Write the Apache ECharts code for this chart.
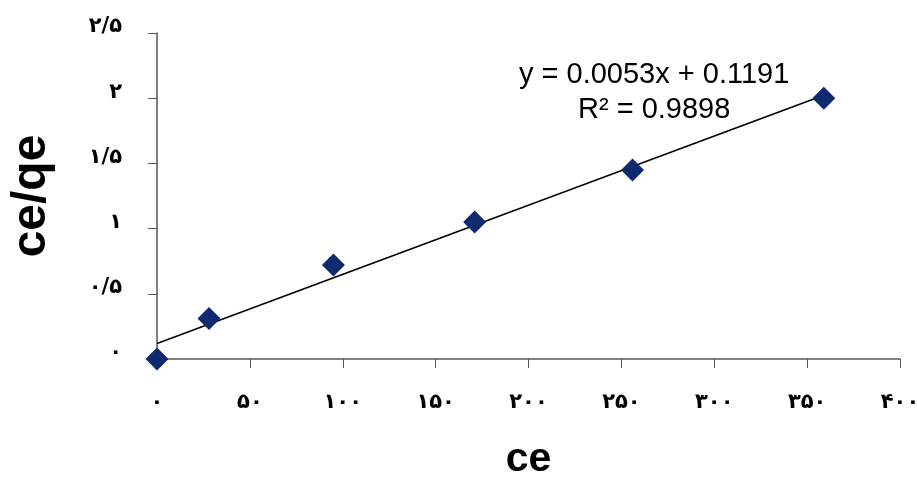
<!DOCTYPE html>
<html><head><meta charset="utf-8">
<script src="https://cdn.jsdelivr.net/npm/echarts@6/dist/echarts.min.js"></script>
<style>html,body{margin:0;padding:0;background:#fff}#c{width:917px;height:479px}</style>
</head><body><div id="c"></div>
<script>
var ceValues = [0, 28, 95, 171, 256, 359];
var ceqeValues = [0, 0.31, 0.72, 1.05, 1.45, 2.0];
var slope = 0.0053, intercept = 0.1191;
var trendX = [0, 359];
var equationText = 'y = 0.0053x + 0.1191';
var r2Text = 'R\u00B2 = 0.9898';
var xTitle = 'ce', yTitle = 'ce/qe';

function fa(v){
  var s = String(v).replace('.', '/');
  var d = '\u06F0\u06F1\u06F2\u06F3\u06F4\u06F5\u06F6\u06F7\u06F8\u06F9';
  return s.replace(/[0-9]/g, function(c){return d[+c];});
}
var pts = ceValues.map(function(x,i){return [x, ceqeValues[i]];});
var trend = trendX.map(function(x){return [x, slope*x + intercept];});

var chart = echarts.init(document.getElementById('c'));
chart.setOption({
  animation:false,
  grid:{left:157,right:17,top:33,bottom:120,containLabel:false,outerBoundsMode:'none'},
  xAxis:{type:'value',min:0,max:400,interval:50,
    axisLine:{show:true,lineStyle:{color:'#555',width:1.5}},
    axisTick:{show:true,length:9,lineStyle:{color:'#555'}},
    splitLine:{show:false},
    axisLabel:{formatter:fa,margin:33,color:'#000',fontWeight:'bold',fontSize:21,fontFamily:'DejaVu Sans'},
    name:xTitle,nameLocation:'middle',nameGap:80,
    nameTextStyle:{fontSize:41,fontWeight:'bold',color:'#000',fontFamily:'Liberation Sans'}},
  yAxis:{type:'value',min:0,max:2.5,interval:0.5,
    axisLine:{show:true,lineStyle:{color:'#555',width:1.5}},
    axisTick:{show:true,length:9,lineStyle:{color:'#555'}},
    splitLine:{show:false},
    axisLabel:{formatter:fa,margin:35,color:'#000',fontWeight:'bold',fontSize:21,fontFamily:'DejaVu Sans',verticalAlign:'bottom',lineHeight:12},
    name:yTitle,nameLocation:'middle',nameGap:101,nameRotate:90,
    nameTextStyle:{fontSize:48,fontWeight:'bold',color:'#000',fontFamily:'Liberation Sans'}},
  series:[
    {type:'line',data:trend,symbol:'none',lineStyle:{color:'#000',width:1.6},z:2},
    {type:'scatter',data:pts,symbol:'diamond',symbolSize:23,itemStyle:{color:'#0f2a6e',opacity:1},z:3}
  ],
  graphic:[
    {type:'text',left:519,top:60,style:{text:equationText,fontSize:29,fontFamily:'Liberation Sans',fill:'#000'}},
    {type:'text',left:578,top:95,style:{text:r2Text,fontSize:29,fontFamily:'Liberation Sans',fill:'#000'}}
  ]
});
</script></body></html>
